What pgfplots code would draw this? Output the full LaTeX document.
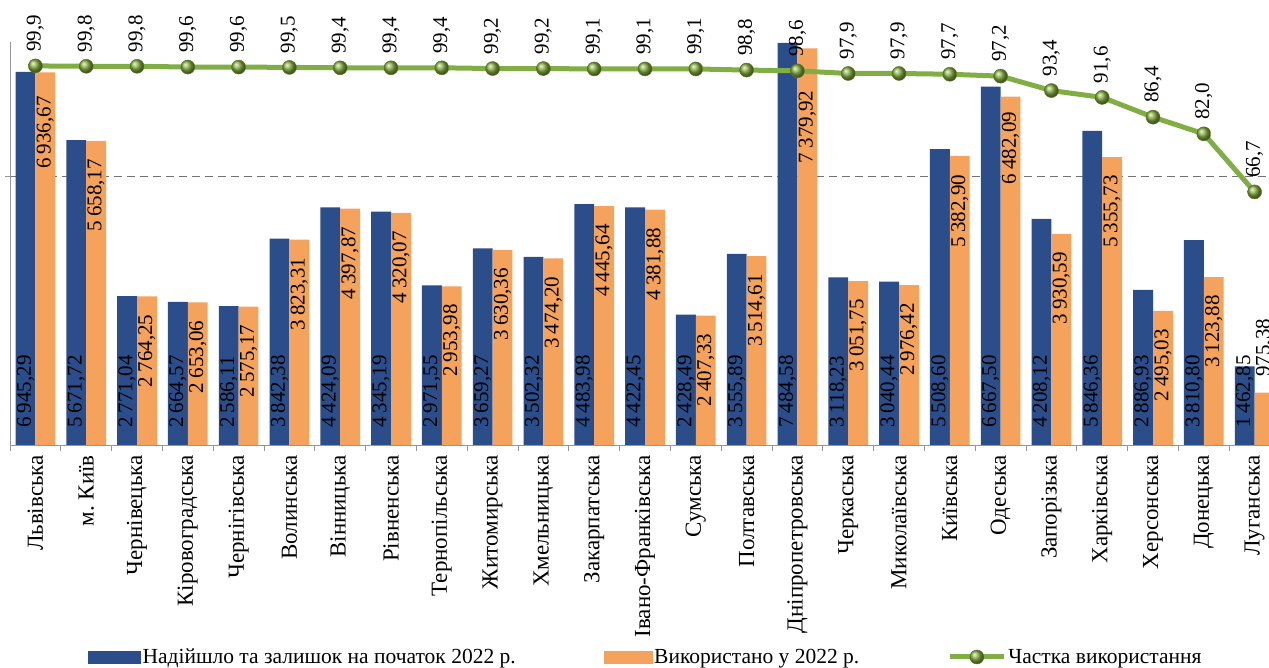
\documentclass[border=0pt]{standalone}
\usepackage{fontspec}
\setmainfont{Liberation Serif}
\usepackage{pgfplots}
\usepackage{pgfplotstable}
\pgfplotsset{compat=1.18}

\definecolor{barblue}{RGB}{43,77,138}
\definecolor{barorange}{RGB}{245,162,92}
\definecolor{linegreen}{RGB}{128,174,68}
\definecolor{ballgreen}{RGB}{134,174,64}
\definecolor{balledge}{RGB}{90,122,36}
\definecolor{axgray}{RGB}{150,150,150}
\definecolor{gridgray}{RGB}{115,115,115}

\newcommand{\fs}{\fontsize{21}{25}\selectfont}
\newcommand{\fcat}{\fontsize{23}{27}\selectfont}
\newcommand{\fleg}{\fontsize{21.5}{25}\selectfont}

% idx, надійшло, використано, частка (%), зсув підпису помаранчевого стовпця (pt)
\pgfplotstableread{
idx blue    orange  share oshift
0   6945.29 6936.67 99.9  -24
1   5671.72 5658.17 99.8  -18
2   2771.04 2764.25 99.8  -18
3   2664.57 2653.06 99.6  -18
4   2586.11 2575.17 99.6  -18
5   3842.38 3823.31 99.5  -18
6   4424.09 4397.87 99.4  -18
7   4345.19 4320.07 99.4  -18
8   2971.55 2953.98 99.4  -18
9   3659.27 3630.36 99.2  -18
10  3502.32 3474.20 99.2  -18
11  4483.98 4445.64 99.1  -18
12  4422.45 4381.88 99.1  -18
13  2428.49 2407.33 99.1  -18
14  3555.89 3514.61 98.8  -18
15  7484.58 7379.92 98.6  -42
16  3118.23 3051.75 97.9  -18
17  3040.44 2976.42 97.9  -18
18  5508.60 5382.90 97.7  -19
19  6667.50 6482.09 97.2  -15
20  4208.12 3930.59 93.4  -18
21  5846.36 5355.73 91.6  -18
22  2886.93 2495.03 86.4  -18
23  3810.80 3123.88 82.0  -18
24  1462.85  975.38 66.7   74
}\regions

\pgfplotsset{
  common/.style={
    width=1270pt, height=403pt, scale only axis,
    xmin=-0.5, xmax=24.5,
    /pgf/number format/assume math mode=true,
  },
  greenleg/.style={
    legend image code/.code={\draw[mark repeat=2, mark phase=2, ##1]
      plot coordinates {(0pt,0pt) (27pt,0pt) (54pt,0pt)};}
  },
}

\begin{document}
\begin{tikzpicture}
\path[use as bounding box] (-10pt,-223pt) rectangle (1259pt,445pt);
\begin{axis}[
  common,
  ymin=0, ymax=7500,
  ybar=0pt, bar width=0.39,
  axis x line*=bottom, axis y line*=left,
  axis line style={axgray, line width=0.8pt},
  tick align=outside,
  major tick length=5pt, minor tick length=6pt,
  xtick={0,...,24},
  minor xtick={-0.5,0.5,...,24.5},
  major x tick style={draw=none},
  minor x tick style={axgray, line width=0.8pt},
  xticklabels={Львівська, м.~Київ, Чернівецька, Кіровоградська, Чернігівська,
    Волинська, Вінницька, Рівненська, Тернопільська, Житомирська, Хмельницька,
    Закарпатська, Івано-Франківська, Сумська, Полтавська, Дніпропетровська,
    Черкаська, Миколаївська, Київська, Одеська, Запорізька, Харківська,
    Херсонська, Донецька, Луганська},
  xticklabel style={rotate=90, anchor=east, inner sep=0pt, font=\fcat},
  xticklabel shift=5pt,
  ytick={5000}, yticklabels={},
  ytick style={axgray, line width=0.8pt},
  ymajorgrids, grid style={gridgray, line width=0.9pt, dash pattern=on 8pt off 5pt},
]
\addplot[fill=barblue, draw=none,
  visualization depends on={y \as \rawy},
  nodes near coords={\pgfmathprintnumber[fixed, fixed zerofill, precision=2,
    use comma, 1000 sep={\kern0.2em}]{\pgfplotspointmeta}},
  every node near coord/.append style={shift={(axis direction cs:0,-\rawy)},
    yshift=17pt, rotate=90, anchor=west, inner sep=0pt, font=\fs, text=black}]
  table[x=idx, y=blue]{\regions};
\addplot[fill=barorange, draw=none,
  visualization depends on={\thisrow{oshift} \as \oshift},
  nodes near coords={\pgfmathprintnumber[fixed, fixed zerofill, precision=2,
    use comma, 1000 sep={\kern0.2em}]{\pgfplotspointmeta}},
  every node near coord/.append style={yshift=\oshift, rotate=90,
    anchor=east, inner sep=0pt, font=\fs, text=black}]
  table[x=idx, y=orange]{\regions};
\end{axis}

\begin{axis}[
  common,
  ymin=0, ymax=106.2,
  hide axis, clip=false,
  legend columns=3,
  legend cell align=left,
  legend style={at={(78/1270,-0.526)}, anchor=west, draw=none, fill=none,
    inner sep=0pt, font=\fleg,
    /tikz/every even column/.append style={column sep=86pt}},
]
\addlegendimage{legend image code/.code={\fill[barblue] (0pt,-6pt) rectangle (52pt,6pt);}}
\addlegendentry{Надійшло та залишок на початок 2022~р.}
\addlegendimage{legend image code/.code={\fill[barorange] (0pt,-6pt) rectangle (48pt,6pt);}}
\addlegendentry{Використано у 2022~р.}
\addplot[linegreen, line width=5pt, mark=ball, mark size=7pt,
  mark options={ball color=ballgreen, draw=balledge, line width=0.5pt},
  nodes near coords={\pgfmathprintnumber[fixed, fixed zerofill, precision=1,
    use comma]{\pgfplotspointmeta}},
  every node near coord/.append style={yshift=14pt, rotate=90, anchor=west,
    inner sep=0pt, font=\fs, text=black},
  greenleg]
  table[x=idx, y=share]{\regions};
\addlegendentry{Частка використання}
\end{axis}
\end{tikzpicture}
\end{document}
